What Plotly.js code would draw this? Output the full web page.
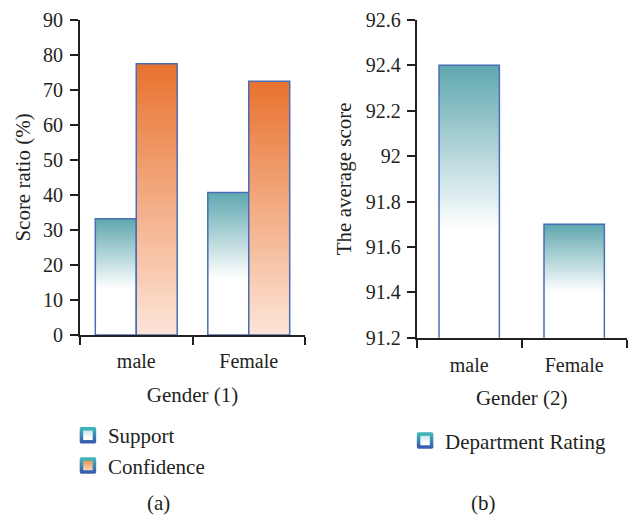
<!DOCTYPE html>
<html>
<head>
<meta charset="utf-8">
<script src="https://cdn.plot.ly/plotly-3.0.1.min.js"></script>
<style>
html,body{margin:0;padding:0;background:#fff;}
#chart{width:629px;height:515px;}
</style>
</head>
<body>
<div id="chart"></div>
<script>
// ---- data ----
const categories = ['male', 'Female'];
const supportValues = [33.2, 40.7];
const confidenceValues = [77.5, 72.5];
const ratingValues = [92.4, 91.7];
const seriesNames = ['Support', 'Confidence', 'Department Rating'];
const axisTitles = {
  x1: 'Gender (1)', y1: 'Score ratio (%)',
  x2: 'Gender (2)', y2: 'The average score'
};
const captions = ['(a)', '(b)'];

// ---- styles ----
const TXT = '#231f20';
const FONT = 'Liberation Serif, Times New Roman, serif';
const EDGE = '#4a6db5';
const TICK_SIZE = 20, TITLE_SIZE = 21, LEG_SIZE = 21;

const W1 = 0.364; // bar width (category units), left chart
const W2 = 0.575; // bar width, right chart

const data = [
  {type: 'bar', name: seriesNames[0], x: categories, y: supportValues,
   xaxis: 'x', yaxis: 'y', width: W1, offset: -W1, legend: 'legend',
   marker: {color: '#8fc0c5', line: {color: EDGE, width: 1.5}}},
  {type: 'bar', name: seriesNames[1], x: categories, y: confidenceValues,
   xaxis: 'x', yaxis: 'y', width: W1, offset: 0, legend: 'legend',
   marker: {color: '#f2ab83', line: {color: EDGE, width: 1.5}}},
  {type: 'bar', name: seriesNames[2], x: categories, y: ratingValues,
   xaxis: 'x2', yaxis: 'y2', width: W2, legend: 'legend2',
   marker: {color: '#8fc0c5', line: {color: EDGE, width: 1.5}}}
];

const axBase = {
  showline: true, linecolor: TXT, linewidth: 2,
  ticks: 'outside', ticklen: 8, tickwidth: 2, tickcolor: TXT,
  showgrid: false, zeroline: false,
  tickfont: {family: FONT, size: TICK_SIZE, color: TXT}
};

const layout = {
  width: 629, height: 515,
  margin: {l: 0, r: 0, t: 0, b: 0},
  paper_bgcolor: '#fff', plot_bgcolor: '#fff',
  font: {family: FONT, color: TXT, size: TICK_SIZE},
  barmode: 'overlay',
  showlegend: true,
  xaxis: Object.assign({}, axBase, {
    domain: [0.1272, 0.4849], anchor: 'y', type: 'category',
    tickson: 'boundaries', ticklabelstandoff: 7,
    title: {text: axisTitles.x1, font: {family: FONT, size: TITLE_SIZE, color: TXT}, standoff: 16}
  }),
  yaxis: Object.assign({}, axBase, {
    domain: [0.3495, 0.9612], anchor: 'x', range: [0, 90], dtick: 10,
    ticklabelstandoff: 3,
    title: {text: axisTitles.y1, font: {family: FONT, size: TITLE_SIZE, color: TXT}, standoff: 7}
  }),
  xaxis2: Object.assign({}, axBase, {
    domain: [0.6625, 0.9963], anchor: 'y2', type: 'category',
    tickson: 'boundaries', ticklabelstandoff: 8,
    title: {text: axisTitles.x2, font: {family: FONT, size: TITLE_SIZE, color: TXT}, standoff: 16}
  }),
  yaxis2: Object.assign({}, axBase, {
    domain: [0.3443, 0.9612], anchor: 'x2', range: [91.2, 92.6], dtick: 0.2,
    ticklabelstandoff: 2,
    title: {text: axisTitles.y2, font: {family: FONT, size: TITLE_SIZE, color: TXT}, standoff: 8}
  }),
  legend: {
    x: 0.108, y: 0.194, xanchor: 'left', yanchor: 'top',
    font: {family: FONT, size: LEG_SIZE, color: TXT}, bgcolor: 'rgba(0,0,0,0)',
    traceorder: 'normal', tracegroupgap: 0
  },
  legend2: {
    x: 0.644, y: 0.184, xanchor: 'left', yanchor: 'top',
    font: {family: FONT, size: LEG_SIZE, color: TXT}, bgcolor: 'rgba(0,0,0,0)'
  },
  annotations: [
    {text: captions[0], x: 0.2512, y: 0.0233, xref: 'paper', yref: 'paper',
     xanchor: 'center', yanchor: 'middle', showarrow: false,
     font: {family: FONT, size: LEG_SIZE, color: TXT}},
    {text: captions[1], x: 0.768, y: 0.0233, xref: 'paper', yref: 'paper',
     xanchor: 'center', yanchor: 'middle', showarrow: false,
     font: {family: FONT, size: LEG_SIZE, color: TXT}}
  ]
};

const gd = document.getElementById('chart');
Plotly.newPlot(gd, data, layout, {staticPlot: true, displayModeBar: false}).then(function () {
  const NS = 'http://www.w3.org/2000/svg';
  const svg = gd.querySelector('.main-svg');
  let defs = svg.querySelector('defs');
  if (!defs) { defs = document.createElementNS(NS, 'defs'); svg.insertBefore(defs, svg.firstChild); }
  let gid = 0;
  function grad(stops, y1, y2, user) {
    const g = document.createElementNS(NS, 'linearGradient');
    const id = 'g' + (gid++);
    g.setAttribute('id', id);
    g.setAttribute('x1', 0); g.setAttribute('x2', 0);
    g.setAttribute('y1', y1); g.setAttribute('y2', y2);
    g.setAttribute('gradientUnits', user ? 'userSpaceOnUse' : 'objectBoundingBox');
    stops.forEach(function (s) {
      const st = document.createElementNS(NS, 'stop');
      st.setAttribute('offset', s[0]);
      st.setAttribute('stop-color', s[1]);
      g.appendChild(st);
    });
    defs.appendChild(g);
    return 'url(#' + id + ')';
  }
  function traceOf(d) {
    while (Array.isArray(d)) { if (d[0] && d[0].trace) return d[0].trace; d = d[0]; }
    return d && d.trace ? d.trace : null;
  }
  const tealStops = [[0, '#5fa7af'], [0.6, '#ffffff'], [1, '#ffffff']];
  const orangeStops = [[0, '#e8722e'], [1, '#fde5d8']];
  const fl = gd._fullLayout;
  gd.querySelectorAll('.barlayer .trace').forEach(function (tr) {
    const trace = traceOf(tr.__data__);
    if (!trace) return;
    const ax = trace.yaxis === 'y2' ? fl.yaxis2 : fl.yaxis;
    const stops = trace.name === seriesNames[1] ? orangeStops : tealStops;
    tr.querySelectorAll('.point path').forEach(function (p) {
      const bb = p.getBBox();
      const top = Math.max(bb.y, 0);
      const bot = Math.min(bb.y + bb.height, ax._length);
      p.style.fill = grad(stops, top, bot, true);
    });
  });
  const borderGrad = grad([[0, '#3cb6ba'], [1, '#3a5db0']], 0, 1, false);
  gd.querySelectorAll('.traces').forEach(function (tr) {
    const trace = traceOf(tr.__data__);
    const isConf = trace && trace.name === seriesNames[1];
    const inner = isConf
      ? grad([[0, '#f08a4e'], [1, '#fde0cf']], 0, 1, false)
      : grad([[0, '#bfe0e2'], [0.7, '#ffffff'], [1, '#ffffff']], 0, 1, false);
    tr.querySelectorAll('.legendpoints path').forEach(function (p) {
      p.setAttribute('d', 'M6.5,6.5H-6.5V-6.5H6.5Z');
      p.style.fill = inner;
      p.style.stroke = borderGrad;
      p.style.strokeWidth = '3.5px';
      p.style.strokeLinejoin = 'round';
    });
  });
});
</script>
</body>
</html>
